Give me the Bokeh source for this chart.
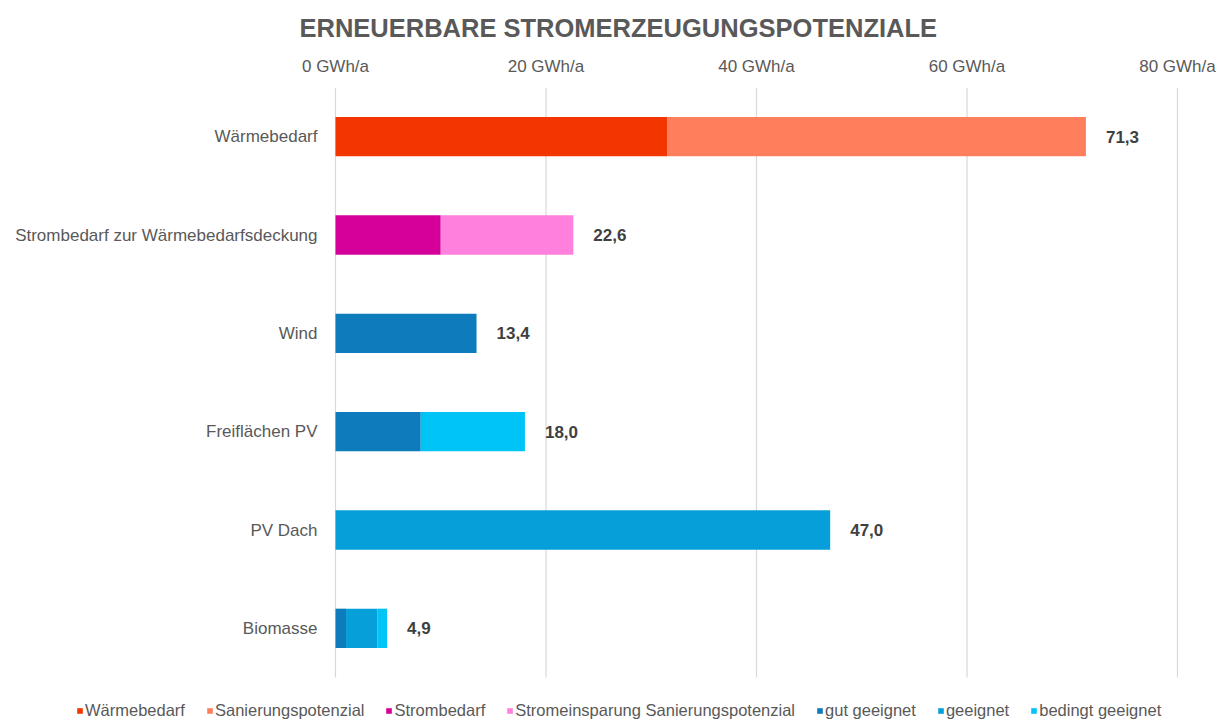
from bokeh.plotting import figure
from bokeh.models import ColumnDataSource, Range1d, FixedTicker, PrintfTickFormatter, Legend, Title
from bokeh.embed import file_html
from bokeh.resources import INLINE
from bokeh.core.properties import value

categories = ["Wärmebedarf", "Strombedarf zur Wärmebedarfsdeckung", "Wind", "Freiflächen PV", "PV Dach", "Biomasse"]
series = ["Wärmebedarf", "Sanierungspotenzial", "Strombedarf", "Stromeinsparung Sanierungspotenzial",
          "gut geeignet", "geeignet", "bedingt geeignet"]
waermebedarf = [31.5, 0, 0, 0, 0, 0]
sanierung = [39.8, 0, 0, 0, 0, 0]
strombedarf = [0, 10.0, 0, 0, 0, 0]
stromeinsparung = [0, 12.6, 0, 0, 0, 0]
gut_geeignet = [0, 0, 13.4, 8.1, 0, 1.0]
geeignet = [0, 0, 0, 0, 47.0, 3.0]
bedingt_geeignet = [0, 0, 0, 9.9, 0, 0.9]
colors = ["#F33500", "#FF7F5C", "#D5009A", "#FF80DD", "#0E7BBC", "#069FD9", "#00C4F5"]
ticks = [0, 20, 40, 60, 80]

n = len(categories)
keys = ["s0", "s1", "s2", "s3", "s4", "s5", "s6"]
data = dict(cat=categories, ypos=[n - i - 0.5 for i in range(n)])
for k, v in zip(keys, [waermebedarf, sanierung, strombedarf, stromeinsparung, gut_geeignet, geeignet, bedingt_geeignet]):
    data[k] = v
totals = [sum(vals) for vals in zip(*[data[k] for k in keys])]
data["total"] = totals
data["label"] = [("%.1f" % t).replace(".", ",") for t in totals]
src = ColumnDataSource(data)

grid_src = ColumnDataSource(dict(x=ticks, y0=[0] * len(ticks), y1=[n] * len(ticks)))

FONT = "Liberation Sans"
GRAY = "#595959"

# layout geometry (pixels)
W, FH, TOP = 1216, 633, 78
X0_PX, X80_PX = 335, 1177
ppu = (X80_PX - X0_PX) / 80.0
x_start = -X0_PX / ppu
x_end = 80 + (W - X80_PX) / ppu
unit_px = 590.0 / n
y_start = n - FH / unit_px

p = figure(frame_width=W, frame_height=FH, output_backend="svg", toolbar_location=None,
           x_range=Range1d(x_start, x_end), y_range=Range1d(y_start, n), x_axis_location="above",
           min_border_left=0, min_border_right=0, min_border_top=TOP, min_border_bottom=0)
p.outline_line_color = None
p.xgrid.visible = False
p.ygrid.visible = False

p.segment(x0="x", x1="x", y0="y0", y1="y1", source=grid_src, line_color="#D9D9D9", line_width=1.2)

renderers = p.hbar_stack(keys, y="ypos", height=0.4, color=colors, line_color=None, source=src)

p.text(x="total", y="ypos", text="label", source=src, x_offset=20, text_align="left", text_baseline="middle",
       text_font=value(FONT), text_font_style="bold", text_font_size="17px", text_color="#404040")

xa = p.xaxis[0]
xa.ticker = FixedTicker(ticks=ticks)
xa.formatter = PrintfTickFormatter(format="%d GWh/a")
xa.axis_line_color = None
xa.major_tick_line_color = None
xa.minor_tick_line_color = None
xa.major_label_text_font = FONT
xa.major_label_text_font_size = "17px"
xa.major_label_text_color = GRAY
xa.major_label_standoff = 6

ya = p.yaxis[0]
ya.fixed_location = 0
ya.ticker = FixedTicker(ticks=data["ypos"])
ya.major_label_overrides = {y: c for y, c in zip(data["ypos"], categories)}
ya.axis_line_color = None
ya.major_tick_line_color = None
ya.minor_tick_line_color = None
ya.major_label_text_font = FONT
ya.major_label_text_font_size = "17px"
ya.major_label_text_color = GRAY
ya.major_label_standoff = 12

legend = Legend(items=[(s, [r]) for s, r in zip(series, renderers)], orientation="horizontal",
                location=(76, 0), glyph_width=7, glyph_height=7, label_standoff=2, spacing=21,
                label_text_font=FONT, label_text_font_size="16.5px", label_text_color=GRAY,
                border_line_color=None, background_fill_alpha=0, padding=0, margin=0)
p.add_layout(legend, "center")

t = Title(text="ERNEUERBARE STROMERZEUGUNGSPOTENZIALE", align="left", offset=299,
          text_font=FONT, text_font_size="25.5px", text_font_style="bold", text_color=GRAY,
          standoff=23)
p.add_layout(t, "above")

open("out.html", "w").write(file_html(p, INLINE))
